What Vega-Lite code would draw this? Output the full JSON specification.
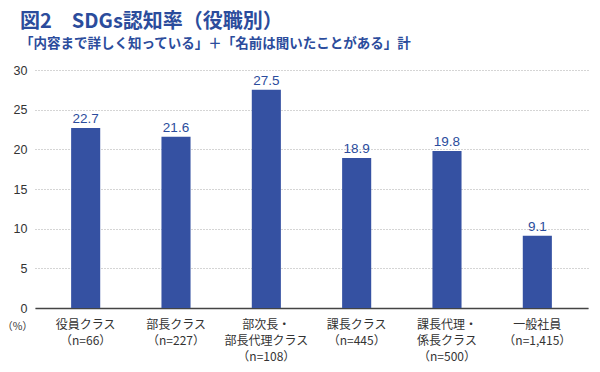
{
  "$schema": "https://vega.github.io/schema/vega-lite/v6.json",
  "autosize": "none",
  "width": 553,
  "height": 238,
  "padding": {"left": 35, "top": 70, "right": 12, "bottom": 64},
  "background": "white",
  "title": {
    "text": "図2　SDGs認知率（役職別）",
    "subtitle": "「内容まで詳しく知っている」＋「名前は聞いたことがある」計",
    "anchor": "start",
    "frame": "group",
    "dx": -15,
    "offset": 14,
    "font": "Noto Sans CJK JP",
    "fontSize": 20,
    "fontWeight": "bold",
    "color": "#2b4c9c",
    "subtitleFont": "Noto Sans CJK JP",
    "subtitleFontSize": 13.5,
    "subtitleFontWeight": "bold",
    "subtitleColor": "#2b4c9c",
    "subtitlePadding": 5
  },
  "data": {
    "values": [
      {"category": "役員クラス|（n=66）", "value": 22.7},
      {"category": "部長クラス|（n=227）", "value": 21.6},
      {"category": "部次長・|部長代理クラス|（n=108）", "value": 27.5},
      {"category": "課長クラス|（n=445）", "value": 18.9},
      {"category": "課長代理・|係長クラス|（n=500）", "value": 19.8},
      {"category": "一般社員|（n=1,415）", "value": 9.1}
    ]
  },
  "encoding": {
    "x": {
      "field": "category",
      "type": "nominal",
      "sort": null,
      "scale": {"paddingInner": 0.678, "paddingOuter": 0.4},
      "axis": {
        "title": null,
        "labelAngle": 0,
        "labelExpr": "split(datum.value, '|')",
        "labelFont": "Noto Sans CJK JP",
        "labelFontSize": 12,
        "labelColor": "#333333",
        "labelLineHeight": 16,
        "labelPadding": 11,
        "ticks": false,
        "domainColor": "#444444",
        "domainWidth": 1.5
      }
    },
    "y": {
      "field": "value",
      "type": "quantitative",
      "scale": {"domain": [0, 30]},
      "axis": {
        "values": [0, 5, 10, 15, 20, 25, 30],
        "title": "（%）",
        "titleAngle": 0,
        "titleX": -18,
        "titleY": 256,
        "titleAlign": "center",
        "titleBaseline": "middle",
        "titleFont": "Noto Sans CJK JP",
        "titleFontSize": 10.5,
        "titleFontWeight": "normal",
        "titleColor": "#333333",
        "labelFont": "Liberation Sans",
        "labelFontSize": 12.5,
        "labelColor": "#333333",
        "labelPadding": 8,
        "ticks": false,
        "domain": false,
        "grid": true,
        "gridColor": "#aaaaaa",
        "gridDash": [1, 2],
        "gridWidth": 1
      }
    }
  },
  "layer": [
    {"mark": {"type": "bar", "color": "#3551a2"}},
    {
      "mark": {
        "type": "text",
        "baseline": "bottom",
        "dy": -2,
        "font": "Liberation Sans",
        "fontSize": 13.5,
        "fontWeight": 500,
        "color": "#2b4c9c"
      },
      "encoding": {"text": {"field": "value", "type": "quantitative", "format": ".1f"}}
    }
  ],
  "config": {"view": {"stroke": null}}
}
